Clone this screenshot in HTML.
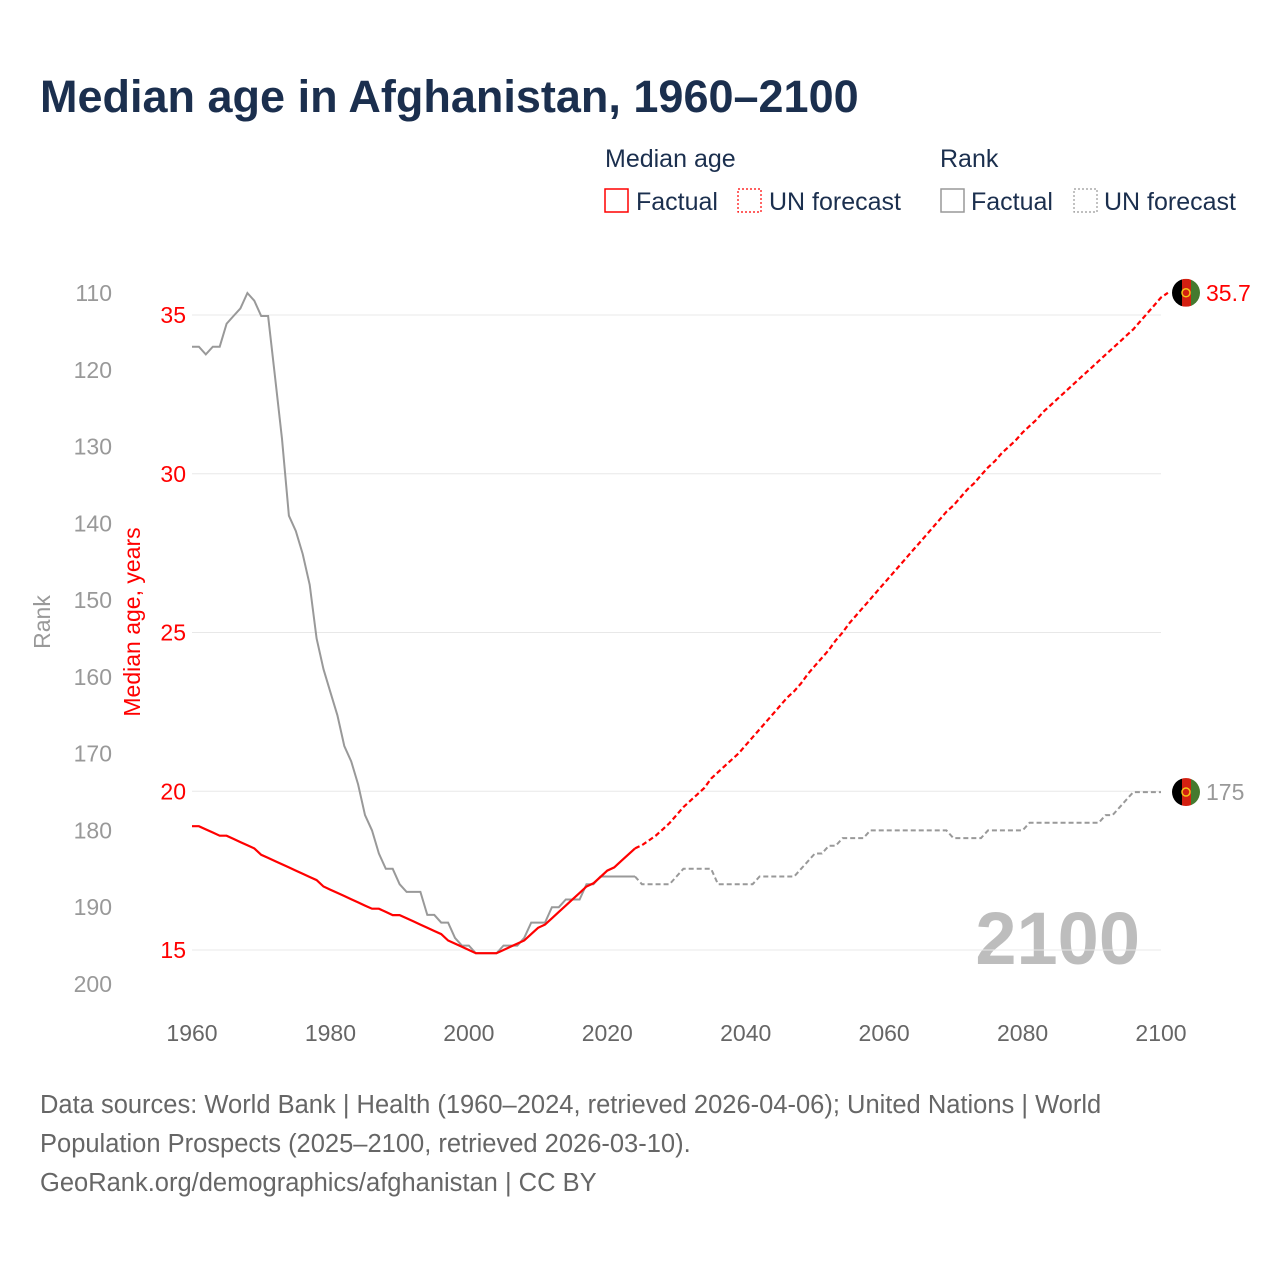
<!DOCTYPE html>
<html><head><meta charset="utf-8">
<style>
body{margin:0;background:#fff;font-family:"Liberation Sans",sans-serif;}
#wrap{position:relative;width:1280px;height:1280px;overflow:hidden;}
</style></head>
<body>
<div id="wrap">
<svg id="chart" width="1280" height="1280" xmlns="http://www.w3.org/2000/svg" font-family="Liberation Sans, sans-serif">
<text x="40" y="112" font-size="45" font-weight="bold" fill="#1b2f4e">Median age in Afghanistan, 1960–2100</text>
<g font-size="25" fill="#1b2f4e">
<text x="605" y="167">Median age</text>
<text x="940" y="167">Rank</text>
<g><rect x="605" y="189" width="23" height="23" fill="none" stroke="red" stroke-width="1.5"/><text x="636" y="210">Factual</text></g>
<g><rect x="738" y="189" width="23" height="23" fill="none" stroke="red" stroke-width="1.2" stroke-dasharray="2,2"/><text x="769" y="210">UN forecast</text></g>
<g><rect x="941" y="189" width="23" height="23" fill="none" stroke="#999" stroke-width="1.5"/><text x="971" y="210">Factual</text></g>
<g><rect x="1074" y="189" width="23" height="23" fill="none" stroke="#999" stroke-width="1.2" stroke-dasharray="2,2"/><text x="1104" y="210">UN forecast</text></g>
</g>
<text transform="translate(50,622) rotate(-90)" text-anchor="middle" font-size="23" fill="#999">Rank</text>
<text transform="translate(140,622) rotate(-90)" text-anchor="middle" font-size="23" fill="red">Median age, years</text>
<text x="1140" y="964" text-anchor="end" font-size="74" font-weight="bold" fill="#bdbdbd">2100</text>
<g id="grid"></g><g id="axes"></g><g id="series"></g><g id="ends"></g>
<g font-size="25.5" fill="#666">
<text x="40" y="1113">Data sources: World Bank | Health (1960–2024, retrieved 2026-04-06); United Nations | World</text>
<text x="40" y="1152">Population Prospects (2025–2100, retrieved 2026-03-10).</text>
<text x="40" y="1191">GeoRank.org/demographics/afghanistan | CC BY</text>
</g>
</svg>
</div>
<script>
const medianFactual=[18.9,18.9,18.8,18.7,18.6,18.6,18.5,18.4,18.3,18.2,18.0,17.9,17.8,17.7,17.6,17.5,17.4,17.3,17.2,17.0,16.9,16.8,16.7,16.6,16.5,16.4,16.3,16.3,16.2,16.1,16.1,16.0,15.9,15.8,15.7,15.6,15.5,15.3,15.2,15.1,15.0,14.9,14.9,14.9,14.9,15.0,15.1,15.2,15.3,15.5,15.7,15.8,16.0,16.2,16.4,16.6,16.8,17.0,17.1,17.3,17.5,17.6,17.8,18.0,18.2];
const medianForecast=[18.3,18.45,18.6,18.8,19.0,19.25,19.5,19.7,19.9,20.1,20.4,20.6,20.8,21.0,21.2,21.45,21.7,21.95,22.2,22.45,22.7,22.95,23.15,23.4,23.7,23.95,24.2,24.45,24.75,25.0,25.3,25.55,25.8,26.05,26.3,26.55,26.8,27.05,27.3,27.55,27.8,28.05,28.3,28.55,28.8,29.0,29.25,29.5,29.7,29.95,30.2,30.4,30.65,30.85,31.05,31.3,31.5,31.7,31.95,32.15,32.35,32.55,32.75,32.95,33.15,33.35,33.55,33.75,33.95,34.15,34.35,34.55,34.8,35.05,35.3,35.55,35.7];
const rankFactual=[117,117,118,117,117,114,113,112,110,111,113,113,121,129,139,141,144,148,155,159,162,165,169,171,174,178,180,183,185,185,187,188,188,188,191,191,192,192,194,195,195,196,196,196,196,195,195,195,194,192,192,192,190,190,189,189,189,187,187,186,186,186,186,186,186];
const rankForecast=[187,187,187,187,187,186,185,185,185,185,185,187,187,187,187,187,187,186,186,186,186,186,186,185,184,183,183,182,182,181,181,181,181,180,180,180,180,180,180,180,180,180,180,180,180,181,181,181,181,181,180,180,180,180,180,180,179,179,179,179,179,179,179,179,179,179,179,178,178,177,176,175,175,175,175,175];
const xTicks=[1960,1980,2000,2020,2040,2060,2080,2100];
const medianTicks=[15,20,25,30,35];
const rankTicks=[110,120,130,140,150,160,170,180,190,200];
const endMedianLabel="35.7", endRankLabel="175";

const NS="http://www.w3.org/2000/svg";
const X=y=>192+(y-1960)*(969/140);
const YM=v=>950-(v-15)*31.75;
const YR=r=>293+(r-110)*(691/90);
function mk(tag,attrs,parent){const e=document.createElementNS(NS,tag);for(const k in attrs)e.setAttribute(k,attrs[k]);parent.appendChild(e);return e;}
const grid=document.getElementById('grid'),axes=document.getElementById('axes'),series=document.getElementById('series'),ends=document.getElementById('ends');
medianTicks.forEach(v=>{
 const l=mk('line',{x1:192,x2:1161,y1:YM(v),y2:YM(v),stroke:'#e8e8e8','stroke-width':1},grid);
 
 
 const t=mk('text',{x:186,y:YM(v)+8,'text-anchor':'end','font-size':23,fill:'red'},axes);
 t.textContent=v;
 
 
});
rankTicks.forEach(r=>{
 const t=mk('text',{x:112,y:YR(r)+8,'text-anchor':'end','font-size':23,fill:'#999'},axes);
 t.textContent=r;
 
 
});
xTicks.forEach(y=>{
 const t=mk('text',{x:X(y),y:1041,'text-anchor':'middle','font-size':23,fill:'#666'},axes);
 t.textContent=y;
 
 
});
function path(arr,start,yf){return arr.map((v,i)=>(i?'L':'M')+X(start+i).toFixed(1)+','+yf(v).toFixed(1)).join(' ');}
const rf=mk('path',{d:path(rankFactual,1960,YR),fill:'none',stroke:'#999','stroke-width':2},series);


const rfc=mk('path',{d:path([rankFactual[rankFactual.length-1]].concat(rankForecast),2024,YR),fill:'none',stroke:'#999','stroke-width':2,'stroke-dasharray':'5,3'},series);


const mf=mk('path',{d:path(medianFactual,1960,YM),fill:'none',stroke:'red','stroke-width':2.2},series);


const mfc=mk('path',{d:path([medianFactual[medianFactual.length-1]].concat(medianForecast),2024,YM),fill:'none',stroke:'red','stroke-width':2.2,'stroke-dasharray':'5,3'},series);


function flag(cy,name){
 const g=mk('g',{},ends);
 
 
 const cx=1186,r=14;
 const cpath=mk('clipPath',{id:'c'+name},g);
 mk('circle',{cx:cx,cy:cy,r:r},cpath);
 const gg=mk('g',{'clip-path':'url(#c'+name+')'},g);
 mk('rect',{x:cx-r,y:cy-r,width:10,height:28,fill:'#000'},gg);
 mk('rect',{x:cx-4,y:cy-r,width:9,height:28,fill:'#d32011'},gg);
 mk('rect',{x:cx+5,y:cy-r,width:10,height:28,fill:'#457a2f'},gg);
 mk('circle',{cx:cx,cy:cy,r:4,fill:'none',stroke:'#f5c518','stroke-width':1.5},g);
}
const lastM=medianForecast[medianForecast.length-1],lastR=rankForecast[rankForecast.length-1];
flag(YM(lastM),'median-end-flag');
flag(YR(lastR),'rank-end-flag');
const lm=mk('text',{x:1206,y:YM(lastM)+8,'font-size':23,fill:'red'},ends);
lm.textContent=endMedianLabel;


const lr=mk('text',{x:1206,y:YR(lastR)+8,'font-size':23,fill:'#999'},ends);
lr.textContent=endRankLabel;


</script>
</body></html>
